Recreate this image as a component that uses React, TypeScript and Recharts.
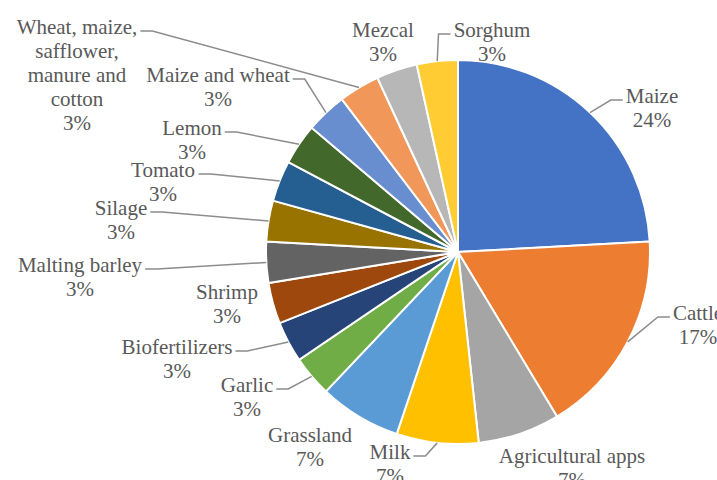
import React from "react";
import { PieChart, Pie, Cell } from "recharts";

const categories = [
  "Maize",
  "Cattle",
  "Agricultural apps",
  "Milk",
  "Grassland",
  "Garlic",
  "Biofertilizers",
  "Shrimp",
  "Malting barley",
  "Silage",
  "Tomato",
  "Lemon",
  "Maize and wheat",
  "Wheat, maize, safflower, manure and cotton",
  "Mezcal",
  "Sorghum",
];
const counts = [7, 5, 2, 2, 2, 1, 1, 1, 1, 1, 1, 1, 1, 1, 1, 1];

const colors = [
  "#4472C4", "#ED7D31", "#A5A5A5", "#FFC000", "#5B9BD5", "#70AD47",
  "#264478", "#9E480E", "#636363", "#997300", "#255E91", "#43682B",
  "#698ED0", "#F1975A", "#B7B7B7", "#FFCD33",
];

// label layout: offset of text block (center x, first line center y) from pie center,
// which side of the text the leader line attaches to, and manual line wraps
type Layout = { dx: number; dy: number; side: "left" | "right" | null; lines?: string[] };
const labelLayout: Layout[] = [
  { dx: 194, dy: -156, side: "left" },
  { dx: 240, dy: 61, side: "left" },
  { dx: 114, dy: 204, side: null },
  { dx: -68, dy: 200, side: "right" },
  { dx: -148, dy: 183, side: null },
  { dx: -211, dy: 133, side: "right" },
  { dx: -281, dy: 95, side: "right" },
  { dx: -231, dy: 40, side: null },
  { dx: -378, dy: 13, side: "right" },
  { dx: -337, dy: -44, side: "right" },
  { dx: -295, dy: -82, side: "right" },
  { dx: -266, dy: -124, side: "right" },
  { dx: -240, dy: -177, side: "right" },
  { dx: -381, dy: -225, side: "right", lines: ["Wheat, maize,", "safflower,", "manure and", "cotton"] },
  { dx: -75, dy: -222, side: null },
  { dx: 34, dy: -222, side: "left" },
];

const data = categories.map((name, i) => ({ name, value: counts[i] }));

const FONT_SIZE = 21;
const LINE_H = 24;
const FAMILY = "'Liberation Serif', 'Times New Roman', Tinos, serif";
const TEXT_COLOR = "#595959";
const LINE_COLOR = "#8c8c8c";

// approximate Times-metric advance widths (per 1000 em)
const W: Record<string, number> = {
  " ": 250, ",": 250, "%": 833, A: 722, B: 667, C: 667, G: 722, L: 611, M: 889, S: 556,
  T: 611, W: 944, a: 444, b: 500, c: 444, d: 500, e: 444, f: 333, g: 500, h: 500, i: 278,
  k: 500, l: 278, m: 778, n: 500, o: 500, p: 500, r: 333, s: 389, t: 278, u: 500, v: 500,
  w: 722, x: 500, y: 500, z: 444,
};
function measure(s: string): number {
  let t = 0;
  for (const ch of s) t += W[ch] ?? 500;
  return (t / 1000) * FONT_SIZE;
}

const RAD = Math.PI / 180;

function renderLabel(props: any) {
  const { cx, cy, midAngle, outerRadius, index, name, percent } = props;
  const lay = labelLayout[index];
  const lines = lay.lines ?? [name];
  const tx = cx + lay.dx;
  const ty = cy + lay.dy;
  const pct = `${Math.round(percent * 100)}%`;
  const allLines = [...lines, pct];
  let line = null;
  if (lay.side) {
    const w = measure(lines[0]);
    const ax = lay.side === "left" ? tx - w / 2 - 3 : tx + w / 2 + 3;
    const ay = ty + 4;
    const bx = lay.side === "left" ? ax - 12 : ax + 12;
    const px = cx + outerRadius * Math.cos(-midAngle * RAD);
    const py = cy + outerRadius * Math.sin(-midAngle * RAD);
    line = (
      <polyline
        points={`${ax},${ay} ${bx},${ay} ${px},${py}`}
        fill="none"
        stroke={LINE_COLOR}
        strokeWidth={1.5}
      />
    );
  }
  return (
    <g key={`lbl-${index}`}>
      {line}
      {allLines.map((l, i) => (
        <text
          key={i}
          x={tx}
          y={ty + i * LINE_H + FONT_SIZE * 0.33}
          textAnchor="middle"
          fill={TEXT_COLOR}
          fontFamily={FAMILY}
          fontSize={FONT_SIZE}
          style={{ fontFamily: FAMILY, fontSize: FONT_SIZE }}
        >
          {l}
        </text>
      ))}
    </g>
  );
}

export default function App() {
  return (
    <div style={{ position: "fixed", left: 0, top: 0, width: 717, height: 480, background: "#ffffff", fontFamily: FAMILY }}>
      <PieChart width={717} height={480} style={{ fontFamily: FAMILY }}>
        <Pie
          data={data}
          dataKey="value"
          nameKey="name"
          cx={453}
          cy={247}
          outerRadius={192}
          startAngle={90}
          endAngle={-270}
          stroke="#ffffff"
          strokeWidth={2}
          label={renderLabel}
          labelLine={false}
          isAnimationActive={false}
        >
          {data.map((d, i) => (
            <Cell key={d.name} fill={colors[i]} />
          ))}
        </Pie>
      </PieChart>
    </div>
  );
}
